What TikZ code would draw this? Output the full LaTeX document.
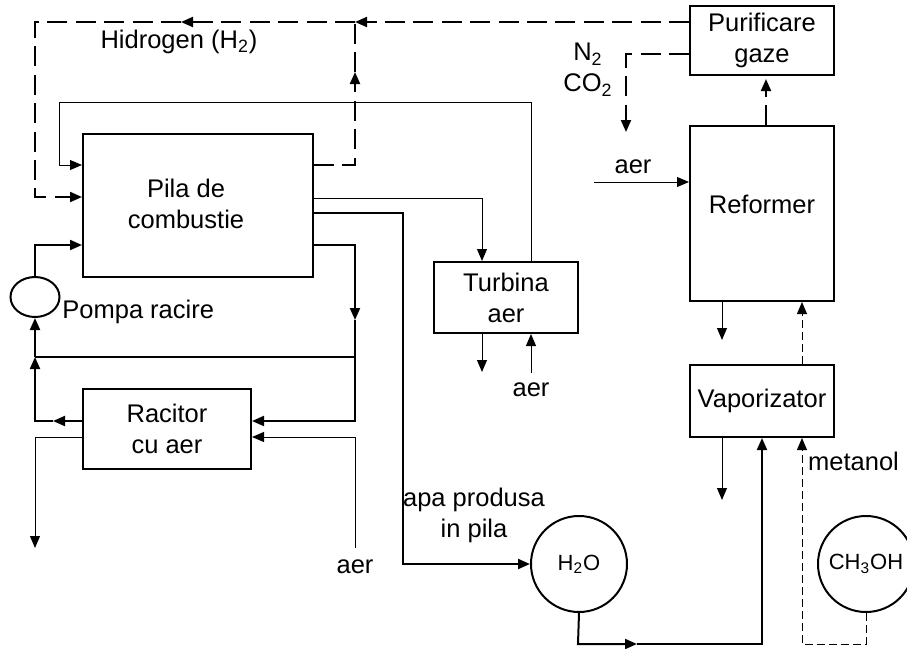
\documentclass[tikz,border=0pt]{standalone}
\usepackage{fontspec}
\setmainfont{Liberation Sans}
\usetikzlibrary{arrows.meta,shapes.geometric}
\begin{document}
\begin{tikzpicture}[x=0.5pt,y=-0.5pt,
  every node/.style={font=\fontsize{12.75}{15.5}\selectfont},
  thk/.style={line width=1pt},
  thn/.style={line width=0.5pt},
  box/.style={draw,thk,rectangle,inner sep=0pt,align=center},
  arr/.style={-{Triangle[length=6pt,width=5pt]}},
  dsh/.style={dash pattern=on 10pt off 4.2pt},
  dshs/.style={dash pattern=on 4pt off 2pt},
  lbl/.style={inner sep=0pt},
  tank/.style={draw,thk,circle,minimum size=48pt,inner sep=0pt,font=\fontsize{11}{13}\selectfont}
]
\useasboundingbox (0,0) rectangle (907,649);

% boxes
\node[box,minimum width=115pt,minimum height=71.5pt] (pila) at (198,205.5) {};
\node[lbl,align=center] (pilat) at (186,204) {Pila de\\combustie};
\node[box,minimum width=84pt,minimum height=40pt] (rac) at (167,429) {Racitor\\cu aer};
\node[box,minimum width=72pt,minimum height=35.5pt] (turb) at (506,297.5) {Turbina\\aer};
\node[box,minimum width=72pt,minimum height=34.5pt] (pur) at (762,40.5) {Purificare\\gaze};
\node[box,minimum width=72pt,minimum height=87.5pt] (ref) at (762,213.5) {};
\node[lbl] (reft) at (762,204) {Reformer};
\node[box,minimum width=72pt,minimum height=36pt] (vap) at (762,401) {Vaporizator};
\node[draw,thk,ellipse,minimum width=24.5pt,minimum height=20pt,inner sep=0pt] (pump) at (35,297) {};
\node[tank] (h2o) at (579,564) {H\textsubscript{2}O};
\node[tank] (ch) at (866,564) {CH\textsubscript{3}OH};

% labels
\node[lbl,anchor=base] (hlab) at (179,48) {Hidrogen (H\textsubscript{2})};
\node[lbl,anchor=base west] (plab) at (62,318) {Pompa racire};
\node[lbl,anchor=base] (aer1) at (355,573) {aer};
\node[lbl,anchor=base] (aer2) at (531,396) {aer};
\node[lbl,anchor=base] (aer3) at (633,173) {aer};
\node[lbl,align=center,anchor=north] (apa) at (474,488) {apa produsa\\in pila};
\node[lbl,align=center,anchor=north] (gas) at (588,43) {N\textsubscript{2}\\CO\textsubscript{2}};
\node[lbl,anchor=base] (met) at (853.5,470) {metanol};

% coordinates
\coordinate (j1) at (355,22);
\coordinate (j2) at (181,22);
\coordinate (j3) at (355,72);
\coordinate (j4) at (355,320);
\coordinate (j5) at (355,357);
\coordinate (j6) at (35,357);
\coordinate (j7) at (53,421);
\coordinate (j8) at (637,644);

% hydrogen loop
\draw[thk,dsh,arr] (pur.west |- 0,22) -- (j1);
\draw[thk,dsh,arr] (j1) -- (j2);
\draw[thk,dsh,arr] (j2) -- (35,22) -- (35,197) -- (pila.west |- 0,197);
\draw[thk,dsh,arr] (pila.east |- 0,165) -- (355,165) -- (j3);
\draw[thk,dsh] (j3) -- (j1);

% air loop
\draw[thn,arr] (turb.north -| 531,0) -- (531,102) -- (59,102) -- (59,165) -- (pila.west |- 0,165);
\draw[thn,arr] (pila.east |- 0,198) -- (482,198) -- (turb.north -| 482,0);
\draw[thn,arr] (turb.south -| 482,0) -- (482,372);
\draw[thn,arr] (aer2.north |- 0,373) -- (turb.south -| 531,0);

% water
\draw[thk,arr] (pila.east |- 0,213) -- (403,213) -- (403,564) -- (h2o.west);
\draw[thk,arr] (h2o.south) -- (578,644) -- (j8);
\draw[thk,arr] (j8) -- (762,644) -- (vap.south);

% cooling
\draw[thk,arr] (pila.east |- 0,245) -- (355,245) -- (j4);
\draw[thk,arr] (j4) -- (355,421) -- (rac.east |- 0,421);
\draw[thk] (j5) -- (j6);
\draw[thk,arr] (pump.north) -- (35,245) -- (pila.west |- 0,245);
\draw[thk,arr] (j6) -- (pump.south);
\draw[thk,arr] (rac.west |- 0,421) -- (j7);
\draw[thk,arr] (j7) -- (35,421) -- (j6);
\draw[thn,arr] (rac.west |- 0,437) -- (35,437) -- (35,548);
\draw[thn,arr] (355,548) -- (355,437) -- (rac.east |- 0,437);

% reformer side
\draw[thn,arr] (594,182) -- (ref.west |- 0,182);
\draw[thk,dsh,arr] (pur.west |- 0,54) -- (626,54) -- (626,132);
\draw[thk,dsh,arr,shorten >=1.5pt] (ref.north -| 766,0) -- (pur.south -| 766,0);
\draw[thn,arr] (ref.south -| 722,0) -- (722,340);
\draw[thn,dshs,arr] (vap.north -| 802,0) -- (ref.south -| 802,0);
\draw[thn,arr] (vap.south -| 722,0) -- (722,500);
\draw[thn,dshs,arr] (ch.south) -- (866,644) -- (802,644) -- (vap.south -| 802,0);
\end{tikzpicture}
\end{document}
